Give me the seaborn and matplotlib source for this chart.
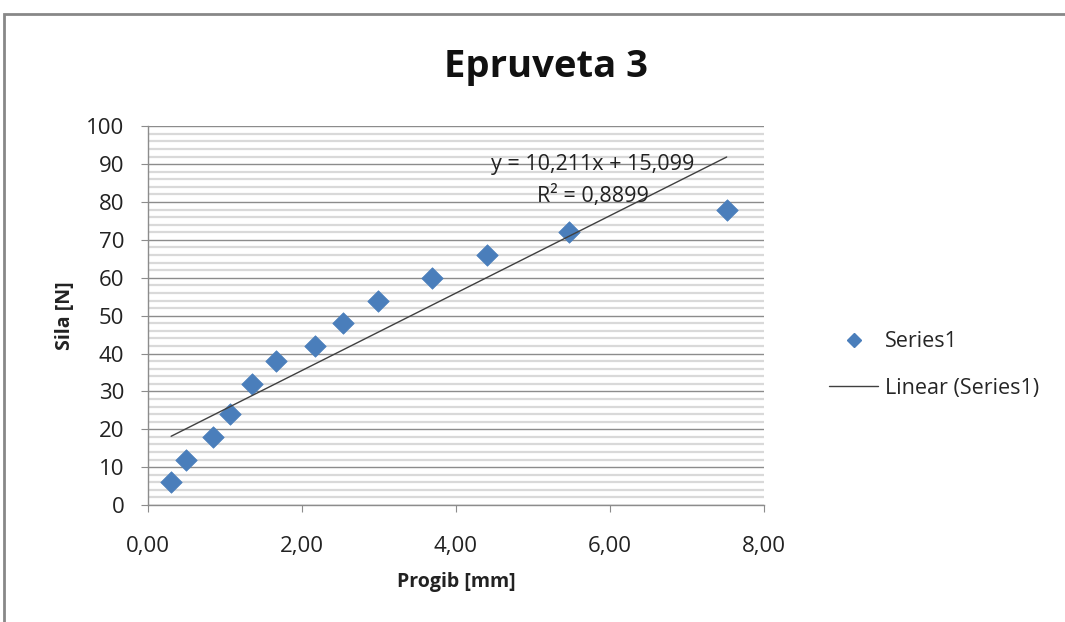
import numpy as np
import pandas as pd
import matplotlib
matplotlib.use("Agg")
import matplotlib.pyplot as plt
import seaborn as sns
from matplotlib.lines import Line2D
from matplotlib.patches import Rectangle
from matplotlib.ticker import MultipleLocator, FuncFormatter

# data
progib = [0.30, 0.49, 0.84, 1.06, 1.35, 1.66, 2.17, 2.53, 2.99, 3.69, 4.40, 5.47, 7.52]
sila = [6, 12, 18, 24, 32, 38, 42, 48, 54, 60, 66, 72, 78]
slope = 10.211
intercept = 15.099
r2 = 0.8899

df = pd.DataFrame({'progib': progib, 'sila': sila})

sns.set_style("white")
plt.rcParams['font.family'] = ['Open Sans', 'DejaVu Sans']

fig = plt.figure(figsize=(10.65, 6.22), dpi=100)
ax = fig.add_axes([0.139, 0.188, 0.578, 0.609])

blue = '#4a7ebb'
txt = '#222222'

# gridlines (excel style: major + minor)
ax.yaxis.set_major_locator(MultipleLocator(10))
ax.yaxis.set_minor_locator(MultipleLocator(2))
ax.xaxis.set_major_locator(MultipleLocator(2))
ax.grid(which='minor', axis='y', color='#d9d9d9', linewidth=1.6)
ax.grid(which='major', axis='y', color='#8c8c8c', linewidth=1.0)
ax.set_axisbelow(True)

sns.scatterplot(data=df, x='progib', y='sila', marker='D', s=120, color=blue,
                edgecolor=blue, linewidth=0.5, ax=ax, zorder=3)

# linear trendline over data range
xs = np.array([min(progib), max(progib)])
ax.plot(xs, slope * xs + intercept, color='#404040', linewidth=1.0, zorder=4)

ax.text(5.78, 90.0, f'y = {slope:.3f}x + {intercept:.3f}'.replace('.', ','),
        ha='center', va='center', fontsize=15.5, color=txt, zorder=5)
ax.text(5.78, 81.5, f'R² = {r2:.4f}'.replace('.', ','),
        ha='center', va='center', fontsize=15.5, color=txt, zorder=5)

ax.set_xlim(0, 8)
ax.set_ylim(0, 100)
ax.xaxis.set_major_formatter(FuncFormatter(lambda v, p: f'{v:.2f}'.replace('.', ',')))

for s in ['top', 'right']:
    ax.spines[s].set_visible(False)
for s in ['left', 'bottom']:
    ax.spines[s].set_color('#8c8c8c')
    ax.spines[s].set_linewidth(1.0)

ax.tick_params(axis='both', which='major', direction='out', length=5, color='#8c8c8c',
               labelsize=16, labelcolor=txt, left=True, bottom=True)
ax.tick_params(axis='x', which='major', pad=17)
ax.tick_params(axis='y', which='major', pad=12)
ax.tick_params(axis='both', which='minor', length=0)

ax.set_xlabel('Progib [mm]', fontsize=14, fontweight='bold', labelpad=11, color=txt)
ax.set_ylabel('Sila [N]', fontsize=14, fontweight='bold', labelpad=8, color=txt)

fig.text(0.513, 0.892, 'Epruveta 3', ha='center', va='center', fontsize=27.5,
         fontweight='bold', color='#111111')

handles = [
    Line2D([], [], marker='D', linestyle='none', color=blue, markersize=7.5),
    Line2D([], [], color='#404040', linewidth=1.0),
]
fig.legend(handles, ['Series1', 'Linear (Series1)'], loc='center left',
           bbox_to_anchor=(0.760, 0.413), frameon=False, fontsize=15.5,
           labelspacing=1.2, handlelength=2.3, handletextpad=0.33)

# chart area border
fig.patches.append(Rectangle((4 / 1065, -0.2), 1.2, 1.2 - 14 / 622,
                             transform=fig.transFigure, fill=False,
                             edgecolor='#888888', linewidth=2.0))

fig.savefig('out.png', dpi=100)
